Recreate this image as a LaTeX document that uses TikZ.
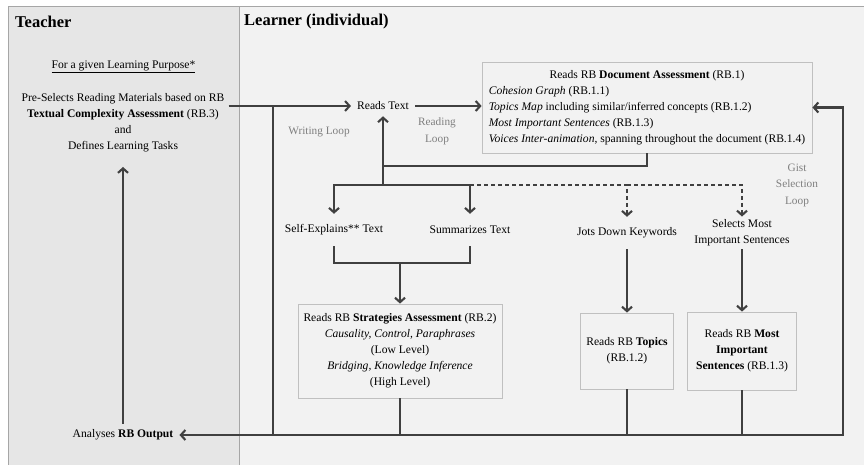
\documentclass[tikz,border=0pt]{standalone}
\usepackage{fontspec}
\setmainfont{Liberation Serif}
\usetikzlibrary{arrows.meta,positioning}
\definecolor{teachbg}{HTML}{E6E6E6}
\definecolor{learnbg}{HTML}{F2F2F2}
\definecolor{panelline}{HTML}{A6A6A6}
\definecolor{flowline}{HTML}{404040}
\definecolor{boxline}{HTML}{C0C0C0}
\definecolor{looptext}{HTML}{7F7F7F}

\begin{document}
\begin{tikzpicture}[
    x=1pt, y=-1pt,
    every node/.style={font=\fontsize{11.6pt}{16pt}\selectfont, text=black},
    title/.style={font=\fontsize{16.5pt}{20pt}\selectfont\bfseries, anchor=west, inner sep=0pt},
    plain/.style={align=center, inner sep=0pt},
    taskbox/.style={align=center, inner xsep=2pt, inner ysep=3pt, minimum height=32pt},
    rbbox/.style={rectangle, draw=boxline, fill=learnbg, line width=0.8pt, align=center},
    looplabel/.style={align=center, text=looptext, inner sep=0pt, font=\fontsize{11.3pt}{16.5pt}\selectfont},
    flow/.style={draw=flowline, line width=2.1pt},
    arr/.style={flow, -{Straight Barb[length=4.5pt,width=10pt]}},
    dasharr/.style={arr, dash pattern=on 4pt off 3pt}
]
    \useasboundingbox (0,0) rectangle (864,465);

    % panels
    \fill[white] (0,0) rectangle (864,465);
    \fill[learnbg] (8,7) rectangle (864,465);
    \fill[teachbg] (8,7) rectangle (239,465);
    \draw[panelline, line width=1pt] (8,465) -- (8,7) -- (864,7);
    \draw[panelline, line width=1pt] (239,7) -- (239,465);

    \node[title] (teacher) at (15,22) {Teacher};
    \node[title] (learner) at (244,22) {Learner (individual)};

    % teacher side
    \node[plain] (purpose) at (123.5,67) {\underline{For a given Learning Purpose*}};
    \node[plain] (pre) at (123,122.5) {Pre-Selects Reading Materials based on RB\\\textbf{Textual Complexity Assessment} (RB.3)\\and\\Defines Learning Tasks};
    \node[plain, inner sep=6pt] (analyses) at (123,435) {Analyses \textbf{RB Output}};

    % learner side
    \node[plain, inner sep=6pt] (rtext) at (383,106) {Reads Text};
    \node[rbbox, minimum width=330pt, minimum height=91pt, inner sep=4pt] (docbox) at (647,107.5) {\begin{tabular}{@{}l@{}}
        \multicolumn{1}{@{}c@{}}{Reads RB \textbf{Document Assessment} (RB.1)}\\
        \textit{Cohesion Graph} (RB.1.1)\\
        \textit{Topics Map} including similar/inferred concepts (RB.1.2)\\
        \textit{Most Important Sentences} (RB.1.3)\\
        \textit{Voices Inter-animation}, spanning throughout the document (RB.1.4)
    \end{tabular}};

    \node[taskbox] (selfex) at (334,230) {Self-Explains** Text};
    \node[taskbox] (summ) at (470,230) {Summarizes Text};
    \node[taskbox] (jots) at (627,233) {Jots Down Keywords};
    \node[taskbox] (selects) at (742,233) {Selects Most\\Important Sentences};

    \node[rbbox, minimum width=204pt, minimum height=94pt] (strat) at (400,351) {Reads RB \textbf{Strategies Assessment} (RB.2)\\\textit{Causality, Control, Paraphrases}\\(Low Level)\\\textit{Bridging, Knowledge Inference}\\(High Level)};
    \node[rbbox, minimum width=93pt, minimum height=76pt] (topics) at (627,351) {Reads RB \textbf{Topics}\\(RB.1.2)};
    \node[rbbox, minimum width=109pt, minimum height=78pt] (mis) at (742,351) {Reads RB \textbf{Most}\\\textbf{Important}\\\textbf{Sentences} (RB.1.3)};

    \node[looplabel] (wloop) at (319,132) {Writing Loop};
    \node[looplabel] (rloop) at (437,131.5) {Reading\\Loop};
    \node[looplabel] (gloop) at (797,185) {Gist\\Selection\\Loop};

    \coordinate (wtop) at (273,106);
    \coordinate (wbot) at (273,435);
    \coordinate (gbot) at (843,435);
    \coordinate (ret) at (383,166);
    \coordinate (fork) at (383,185);
    \coordinate (merge) at (400,263);

    % connectors
    \draw[arr] ([xshift=4pt]pre.east |- rtext) -- (rtext.west);
    \draw[arr] (rtext.east) -- (rtext.east -| docbox.west);
    \draw[flow] (wtop) -- (wbot);
    \draw[arr] (wbot) -- (analyses.east);
    \draw[arr] (wbot) -- (gbot) |- (docbox.east);
    \draw[arr] (analyses.north) -- ([yshift=-15pt]pre.south);
    \draw[arr] (docbox.south) |- (ret) -- (rtext.south);
    \draw[flow] (fork) -- (ret);
    \draw[arr] (fork) -| (selfex.north);
    \draw[arr] (fork) -| (summ.north);
    \draw[dasharr] (summ.north |- fork) -| (jots.north);
    \draw[dasharr] (jots.north |- fork) -| (selects.north);
    \draw[flow] (selfex.south) |- (merge) -| (summ.south);
    \draw[arr] (merge) -- (strat.north);
    \draw[arr] (jots.south) -- (jots.south |- topics.north);
    \draw[arr] (selects.south) -- (selects.south |- mis.north);
    \draw[flow] (strat.south) -- (strat.south |- gbot);
    \draw[flow] (topics.south) -- (topics.south |- gbot);
    \draw[flow] (mis.south) -- (mis.south |- gbot);
\end{tikzpicture}
\end{document}
